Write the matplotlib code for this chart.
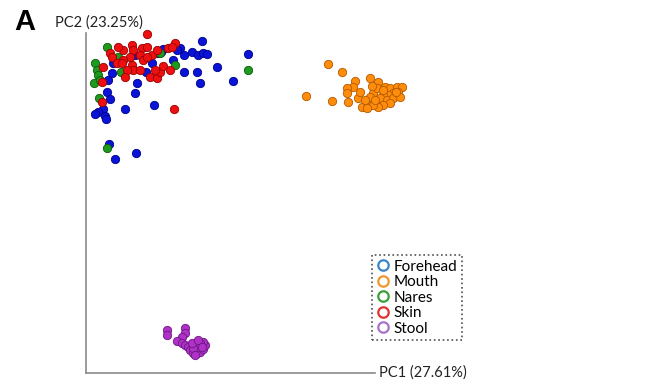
import matplotlib
matplotlib.use("Agg")
import matplotlib.pyplot as plt
from matplotlib.lines import Line2D

plt.rcParams['font.family'] = ['Lato', 'DejaVu Sans']

# PC scores (arbitrary units)
forehead_x = [116,162,106,112,117,121,98,94,91,75,72,77,87,66,60,98,111,131,114,147,51,49,21,24,39,68,17,12,9,19,20,23,50,29,49,27,22,26]
forehead_y = [332,319,321,318,320,319,318,325,323,321,320,324,313,310,301,301,301,306,290,292,290,280,281,274,264,268,264,261,259,257,254,229,220,214,318,310,293,300]
nares_x = [21,9,11,12,8,14,32,35,57,89,162,13,21,74]
nares_y = [326,310,303,298,290,293,316,301,315,308,303,275,225,320]
skin_x = [61,88,24,26,37,46,47,56,61,66,54,44,37,31,36,46,47,54,41,39,17,16,64,71,74,77,84,82,89,86,57,61,69,16,71,32]
skin_y = [339,264,320,316,323,328,323,325,326,318,318,316,313,310,310,308,303,303,303,296,306,291,296,295,301,307,303,325,330,326,313,316,303,271,323,326]
mouth_x = [242,256,220,246,269,284,292,267,261,261,262,272,276,282,287,291,299,304,311,316,312,307,302,297,294,301,307,314,304,297,292,287,281,297,284,289,279,310,286,274]
mouth_y = [309,301,277,272,292,295,291,286,285,280,271,275,266,268,280,285,286,285,286,286,281,280,278,278,275,273,275,276,270,268,266,268,265,283,276,273,273,281,287,281]
stool_x = [81,81,99,99,96,91,96,99,102,104,107,111,114,117,119,117,114,111,107,106,112,116,109]
stool_y = [43,38,45,40,36,32,30,28,26,23,20,20,21,24,28,31,30,26,25,30,33,26,18]

legend_labels = ["Forehead", "Mouth", "Nares", "Skin", "Stool"]
legend_colors = ["#3a86c8", "#f0962e", "#3a9e3a", "#e03232", "#a872cc"]

W, H = 650, 389
fig = plt.figure(figsize=(6.5, 3.89), dpi=100)
ax = fig.add_axes([86/W, 16/H, (W-86)/W, (373-20)/H])
ax.set_xlim(0, W-86)
ax.set_ylim(0, 373-20)

ms = 36
ax.scatter(forehead_x, forehead_y, s=ms, c="#0a14d8", edgecolors="#000088", linewidths=0.6, zorder=3)
ax.scatter(nares_x, nares_y, s=ms, c="#1e9a1e", edgecolors="#0b5a0b", linewidths=0.6, zorder=3)
ax.scatter(skin_x, skin_y, s=ms, c="#ee1010", edgecolors="#990000", linewidths=0.6, zorder=4)
ax.scatter(mouth_x, mouth_y, s=ms, c="#ff8c0a", edgecolors="#b25a00", linewidths=0.6, zorder=3)
ax.scatter(stool_x, stool_y, s=ms, c="#b030c8", edgecolors="#6a1a80", linewidths=0.6, zorder=3)

for s in ["top", "right"]:
    ax.spines[s].set_visible(False)
for s in ["left", "bottom"]:
    ax.spines[s].set_color("#8a8a8a")
    ax.spines[s].set_linewidth(1.2)
ax.spines["left"].set_bounds(0, 340)
ax.spines["bottom"].set_bounds(0, 289)
ax.set_xticks([])
ax.set_yticks([])
ax.patch.set_alpha(0)

fig.text(379/W, 1-373/H, "PC1 (27.61%)", fontsize=10.5, va="center", ha="left", color="#222222")
fig.text(55/W, 1-23/H, "PC2 (23.25%)", fontsize=10.5, va="center", ha="left", color="#222222")
fig.text(14/W, 1-22/H, "A", fontsize=21, fontweight="bold", va="center", ha="left", family=["Liberation Sans", "DejaVu Sans"])

handles = [Line2D([], [], marker="o", linestyle="none", markerfacecolor="none",
                  markeredgecolor=c, markeredgewidth=1.6, markersize=7.5) for c in legend_colors]
leg = fig.legend(handles, legend_labels, loc="upper left", bbox_to_anchor=(372/W, 1-255/H),
                 frameon=True, fancybox=False, fontsize=11, handlelength=0.8, handletextpad=0.3,
                 labelspacing=0.1, borderpad=0.3, borderaxespad=0)
fr = leg.get_frame()
fr.set_edgecolor("#222222")
fr.set_linestyle(":")
fr.set_linewidth(1.2)

fig.savefig("out.png", dpi=100)
